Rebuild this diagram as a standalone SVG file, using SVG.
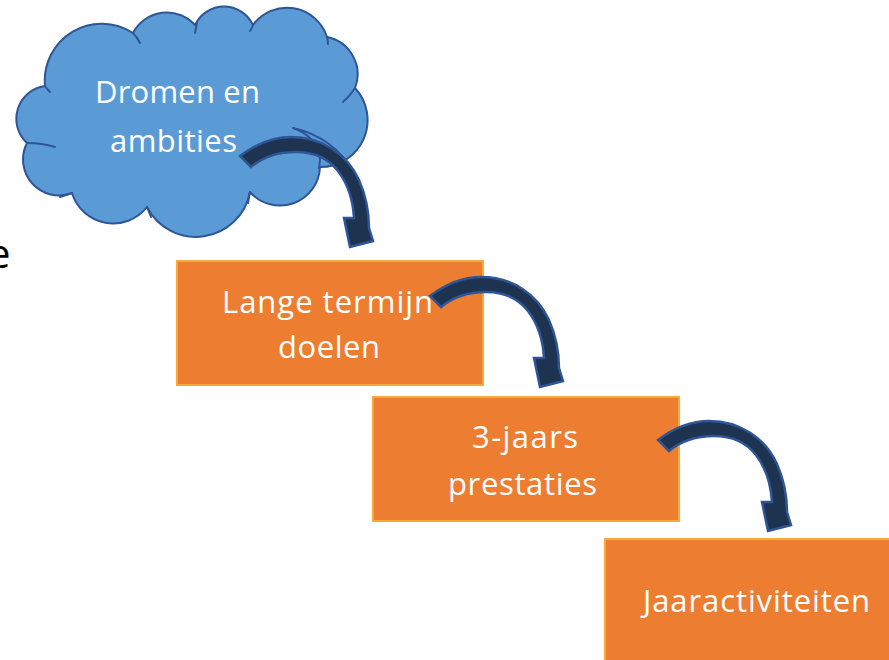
<svg xmlns="http://www.w3.org/2000/svg" xmlns:xlink="http://www.w3.org/1999/xlink" width="889" height="660" viewBox="0 0 889 660">
  <style>
    .cloud { fill: #5B9BD5; stroke: #2F5597; stroke-width: 2; stroke-linejoin: round; }
    .hook { fill: none; stroke: #2F5597; stroke-width: 2; stroke-linecap: round; }
    .box { fill: #ED7D31; stroke: #F9A83A; stroke-width: 2; }
    .lbl { font-family: "Open Sans", "Noto Sans", "Liberation Sans", sans-serif; font-size: 31px; fill: #FFFFFF; text-anchor: middle; }
    .arrow { fill: #1D3350; stroke: #2F5597; stroke-width: 2.5; stroke-linejoin: miter; }
    .thin { fill: none; stroke: #2F5597; stroke-width: 2; }
  </style>
  <defs>
    <path id="curvedArrow" class="arrow" d="M430,296 C446,284 462,277 481,277 C512,277 537,294 549,320 C556,336 559,352 559,368 L563,381 L540,387 L534,358 L544,358 C543,340 538,324 528,311 C518,298 503,292 486,292 C470,292 453,297 441,307 Z"/>
  </defs>
  <rect width="889" height="660" fill="#FFFFFF"/>

  <text x="-12" y="268" font-family="Open Sans, Noto Sans, sans-serif" font-size="40" fill="#000000">e</text>

  <g id="node-dromen">
    <path class="cloud" d="M27,143 A33,33 0 0 1 45,86 A57,57 0 0 1 133,33 A38,38 0 0 1 195,25 A32,32 0 0 1 253,25 A42,42 0 0 1 327,37 A38,38 0 0 1 355,88 A47,47 0 0 1 320,167 A40,40 0 0 1 250,192 A55,55 0 0 1 147,207 A43,43 0 0 1 72,193 A36,36 0 0 1 27,143 Z"/>
    <path class="hook" d="M27,143 Q42,143 55,147"/>
    <path class="hook" d="M45,86 Q47,89 50,92"/>
    <path class="hook" d="M133,33 Q137,37 140,43"/>
    <path class="hook" d="M197,23 Q196,28 195,33"/>
    <path class="hook" d="M253,25 Q252,28 250,31"/>
    <path class="hook" d="M327,37 Q328,40 328,44"/>
    <path class="hook" d="M355,88 Q350,96 343,102"/>
    <path class="hook" d="M293,128 C308,133 320,145 320,160 L319,168"/>
    <path class="hook" d="M250,192 Q249,197 248,203"/>
    <path class="hook" d="M147,207 Q149,212 151,217"/>
    <path class="hook" d="M72,193 Q66,195 60,197"/>
    <text class="lbl" x="177.5" y="103" textLength="165" lengthAdjust="spacing">Dromen en</text>
    <text class="lbl" x="173.5" y="152" textLength="127" lengthAdjust="spacing">ambities</text>
  </g>

  <g id="node-lange-termijn">
    <rect class="box" x="177" y="261" width="306" height="124"/>
    <text class="lbl" x="327.5" y="313" textLength="211" lengthAdjust="spacing">Lange termijn</text>
    <text class="lbl" x="329" y="358" textLength="102" lengthAdjust="spacing">doelen</text>
  </g>

  <g id="node-3-jaars">
    <rect class="box" x="373" y="397" width="306" height="124"/>
    <text class="lbl" x="525" y="448" textLength="106" lengthAdjust="spacing">3-jaars</text>
    <text class="lbl" x="522.5" y="495" textLength="149" lengthAdjust="spacing">prestaties</text>
  </g>

  <g id="node-jaaractiviteiten">
    <rect class="box" x="605" y="539" width="306" height="124"/>
    <text class="lbl" x="756.5" y="612" textLength="227" lengthAdjust="spacing">Jaaractiviteiten</text>
  </g>

  <g id="connectors">
    <path class="thin" d="M293,128 C320,134 342,150 353,172"/>
    <use xlink:href="#curvedArrow" href="#curvedArrow" transform="translate(-190,-140)"/>
    <use xlink:href="#curvedArrow" href="#curvedArrow"/>
    <use xlink:href="#curvedArrow" href="#curvedArrow" transform="translate(228,144)"/>
  </g>
</svg>
